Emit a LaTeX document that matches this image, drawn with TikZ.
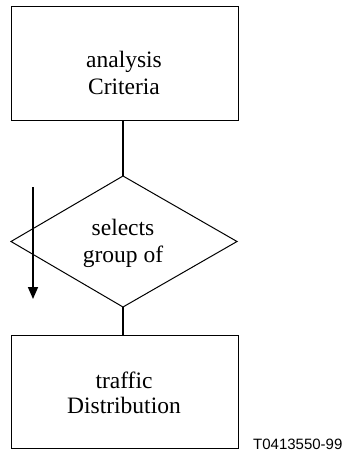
\documentclass[tikz,border=0pt]{standalone}
\usepackage{fontspec}
\setmainfont{Liberation Serif}
\newfontfamily\labelfont{Liberation Sans}
\usetikzlibrary{arrows.meta}
\tikzset{
  boxshape/.style={draw, line width=1pt, minimum width=227pt, minimum height=113pt, inner sep=0pt},
  decshape/.style={draw, line width=1pt, inner sep=0pt},
  conn/.style={line width=1.4pt},
  txt/.style={anchor=base, inner sep=0pt, font=\fontsize{23.5}{27}\selectfont},
  flowarrow/.style={line width=1.6pt, -{Triangle[length=12pt,width=10pt]}},
}
\begin{document}
\begin{tikzpicture}[x=1pt,y=-1pt]
\useasboundingbox (0,0) rectangle (346,452);
% top box
\node[boxshape] (topbox) at (124.5,63.5) {};
\node[txt] (t1a) at (124,67) {analysis};
\node[txt] (t1b) at (124,94) {Criteria};
% diamond
\coordinate (dn) at (123,176);
\coordinate (de) at (237,241.5);
\coordinate (ds) at (123,307);
\coordinate (dw) at (11,241.5);
\draw[decshape] (dn) -- (de) -- (ds) -- (dw) -- cycle;
\node[txt] (t2a) at (123,235) {selects};
\node[txt] (t2b) at (123,262) {group of};
% bottom box
\node[boxshape] (botbox) at (124.5,391.5) {};
\node[txt] (t3a) at (124,388) {traffic};
\node[txt] (t3b) at (124,413) {Distribution};
% connectors
\draw[conn] (topbox.south -| dn) -- (dn);
\draw[conn] (ds) -- (botbox.north -| ds);
% arrow
\coordinate (as) at (33,187);
\coordinate (ae) at (33,299);
\draw[flowarrow] (as) -- (ae);
% label
\node[anchor=base west, inner sep=0pt, font=\labelfont\fontsize{15}{18}\selectfont] (lab) at (253,449) {T0413550-99};
\end{tikzpicture}
\end{document}
